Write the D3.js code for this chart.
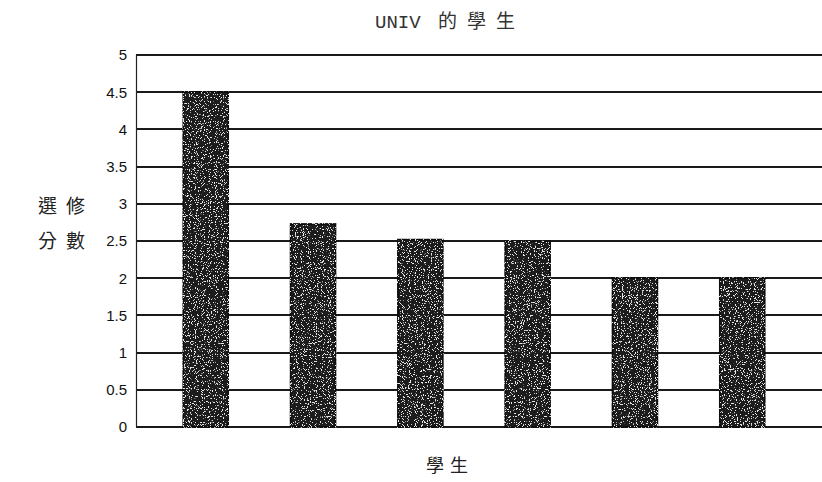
<!DOCTYPE html>
<html>
<head>
<meta charset="utf-8">
<script src="https://cdn.jsdelivr.net/npm/d3@7"></script>
<style>
  body { margin: 0; background: #fff; }
  #plot { width: 822px; height: 482px; }
</style>
</head>
<body>
<div id="plot"></div>
<script>
// chart data
const students = ["s1", "s2", "s3", "s4", "s5", "s6"];
const credits = [4.5, 2.73, 2.52, 2.5, 2, 2];
const yTicks = [0, 0.5, 1, 1.5, 2, 2.5, 3, 3.5, 4, 4.5, 5];
const titleParts = ["UNIV ", "的學生"];
const yLabelLines = ["選修", "分數"];
const xLabelText = "學生";

const W = 822, H = 482;
const margin = {top: 55, left: 136, bottom: 55};
const plotBottom = H - margin.bottom; // 427

const svg = d3.select("#plot")
    .append("svg")
    .attr("width", W)
    .attr("height", H);

// grainy fill for the bars
const defs = svg.append("defs");
const filt = defs.append("filter")
    .attr("id", "grain")
    .attr("filterUnits", "userSpaceOnUse")
    .attr("x", 0).attr("y", 0).attr("width", W).attr("height", H);
filt.append("feTurbulence")
    .attr("type", "fractalNoise")
    .attr("baseFrequency", 0.85)
    .attr("numOctaves", 2)
    .attr("seed", 5)
    .attr("result", "noise");
filt.append("feColorMatrix")
    .attr("in", "noise")
    .attr("type", "matrix")
    .attr("values", "0 0 0 0 0.8  0 0 0 0 0.8  0 0 0 0 0.8  0 0 0 -22 8.6")
    .attr("result", "specks");
filt.append("feComposite")
    .attr("in", "specks")
    .attr("in2", "SourceGraphic")
    .attr("operator", "in")
    .attr("result", "specksIn");
filt.append("feMerge").call(m => {
    m.append("feMergeNode").attr("in", "SourceGraphic");
    m.append("feMergeNode").attr("in", "specksIn");
});

// scales
const y = d3.scaleLinear()
    .domain([0, 5])
    .range([plotBottom, margin.top]);

const x = d3.scaleBand()
    .domain(students)
    .range([136, 812])
    .paddingInner(0.58)
    .paddingOuter(0.44);

// gridlines
svg.append("g")
    .selectAll("line")
    .data(yTicks)
    .enter()
    .append("line")
    .attr("x1", margin.left)
    .attr("x2", W)
    .attr("y1", d => Math.round(y(d)))
    .attr("y2", d => Math.round(y(d)))
    .attr("stroke", "#1a1a1a")
    .attr("stroke-width", 1.8);

// left axis line
svg.append("line")
    .attr("x1", margin.left + 0.5)
    .attr("x2", margin.left + 0.5)
    .attr("y1", y(5))
    .attr("y2", y(0))
    .attr("stroke", "#222")
    .attr("stroke-width", 1.2);

// tick labels
svg.append("g")
    .selectAll("text")
    .data(yTicks)
    .enter()
    .append("text")
    .attr("x", 127)
    .attr("y", d => y(d))
    .attr("dy", "0.36em")
    .attr("text-anchor", "end")
    .style("font-family", "'Liberation Sans', Arial, sans-serif")
    .style("font-size", "15px")
    .style("fill", "#111")
    .text(d => d);

// bars
svg.append("g")
    .selectAll("rect")
    .data(credits)
    .enter()
    .append("rect")
    .attr("x", (d, i) => x(students[i]))
    .attr("y", d => y(d))
    .attr("width", x.bandwidth())
    .attr("height", d => y(0) - y(d))
    .attr("fill", "#1c1c1c")
    .attr("stroke", "#0a0a0a")
    .attr("stroke-width", 1.5)
    .attr("filter", "url(#grain)");

// title: courier-like latin part + spaced CJK part
const title = svg.append("text")
    .attr("x", 375)
    .attr("y", 28)
    .style("fill", "#333");
title.append("tspan")
    .style("font-family", "'Liberation Mono', 'DejaVu Sans Mono', monospace")
    .style("font-size", "19px")
    .text(titleParts[0]);
title.append("tspan")
    .attr("dx", 6)
    .style("font-family", "'Noto Sans CJK TC', sans-serif")
    .style("font-size", "19px")
    .style("letter-spacing", "10px")
    .text(titleParts[1]);

// y label, two lines
svg.append("g")
    .selectAll("text")
    .data(yLabelLines)
    .enter()
    .append("text")
    .attr("x", 38)
    .attr("y", (d, i) => 213 + i * 35)
    .style("font-family", "'Noto Sans CJK TC', sans-serif")
    .style("font-size", "19px")
    .style("letter-spacing", "9px")
    .style("fill", "#222")
    .text(d => d);

// x label
svg.append("text")
    .attr("x", 450)
    .attr("y", 472)
    .attr("text-anchor", "middle")
    .style("font-family", "'Noto Sans CJK TC', sans-serif")
    .style("font-size", "18px")
    .style("letter-spacing", "6px")
    .style("fill", "#222")
    .text(xLabelText);
</script>
</body>
</html>
